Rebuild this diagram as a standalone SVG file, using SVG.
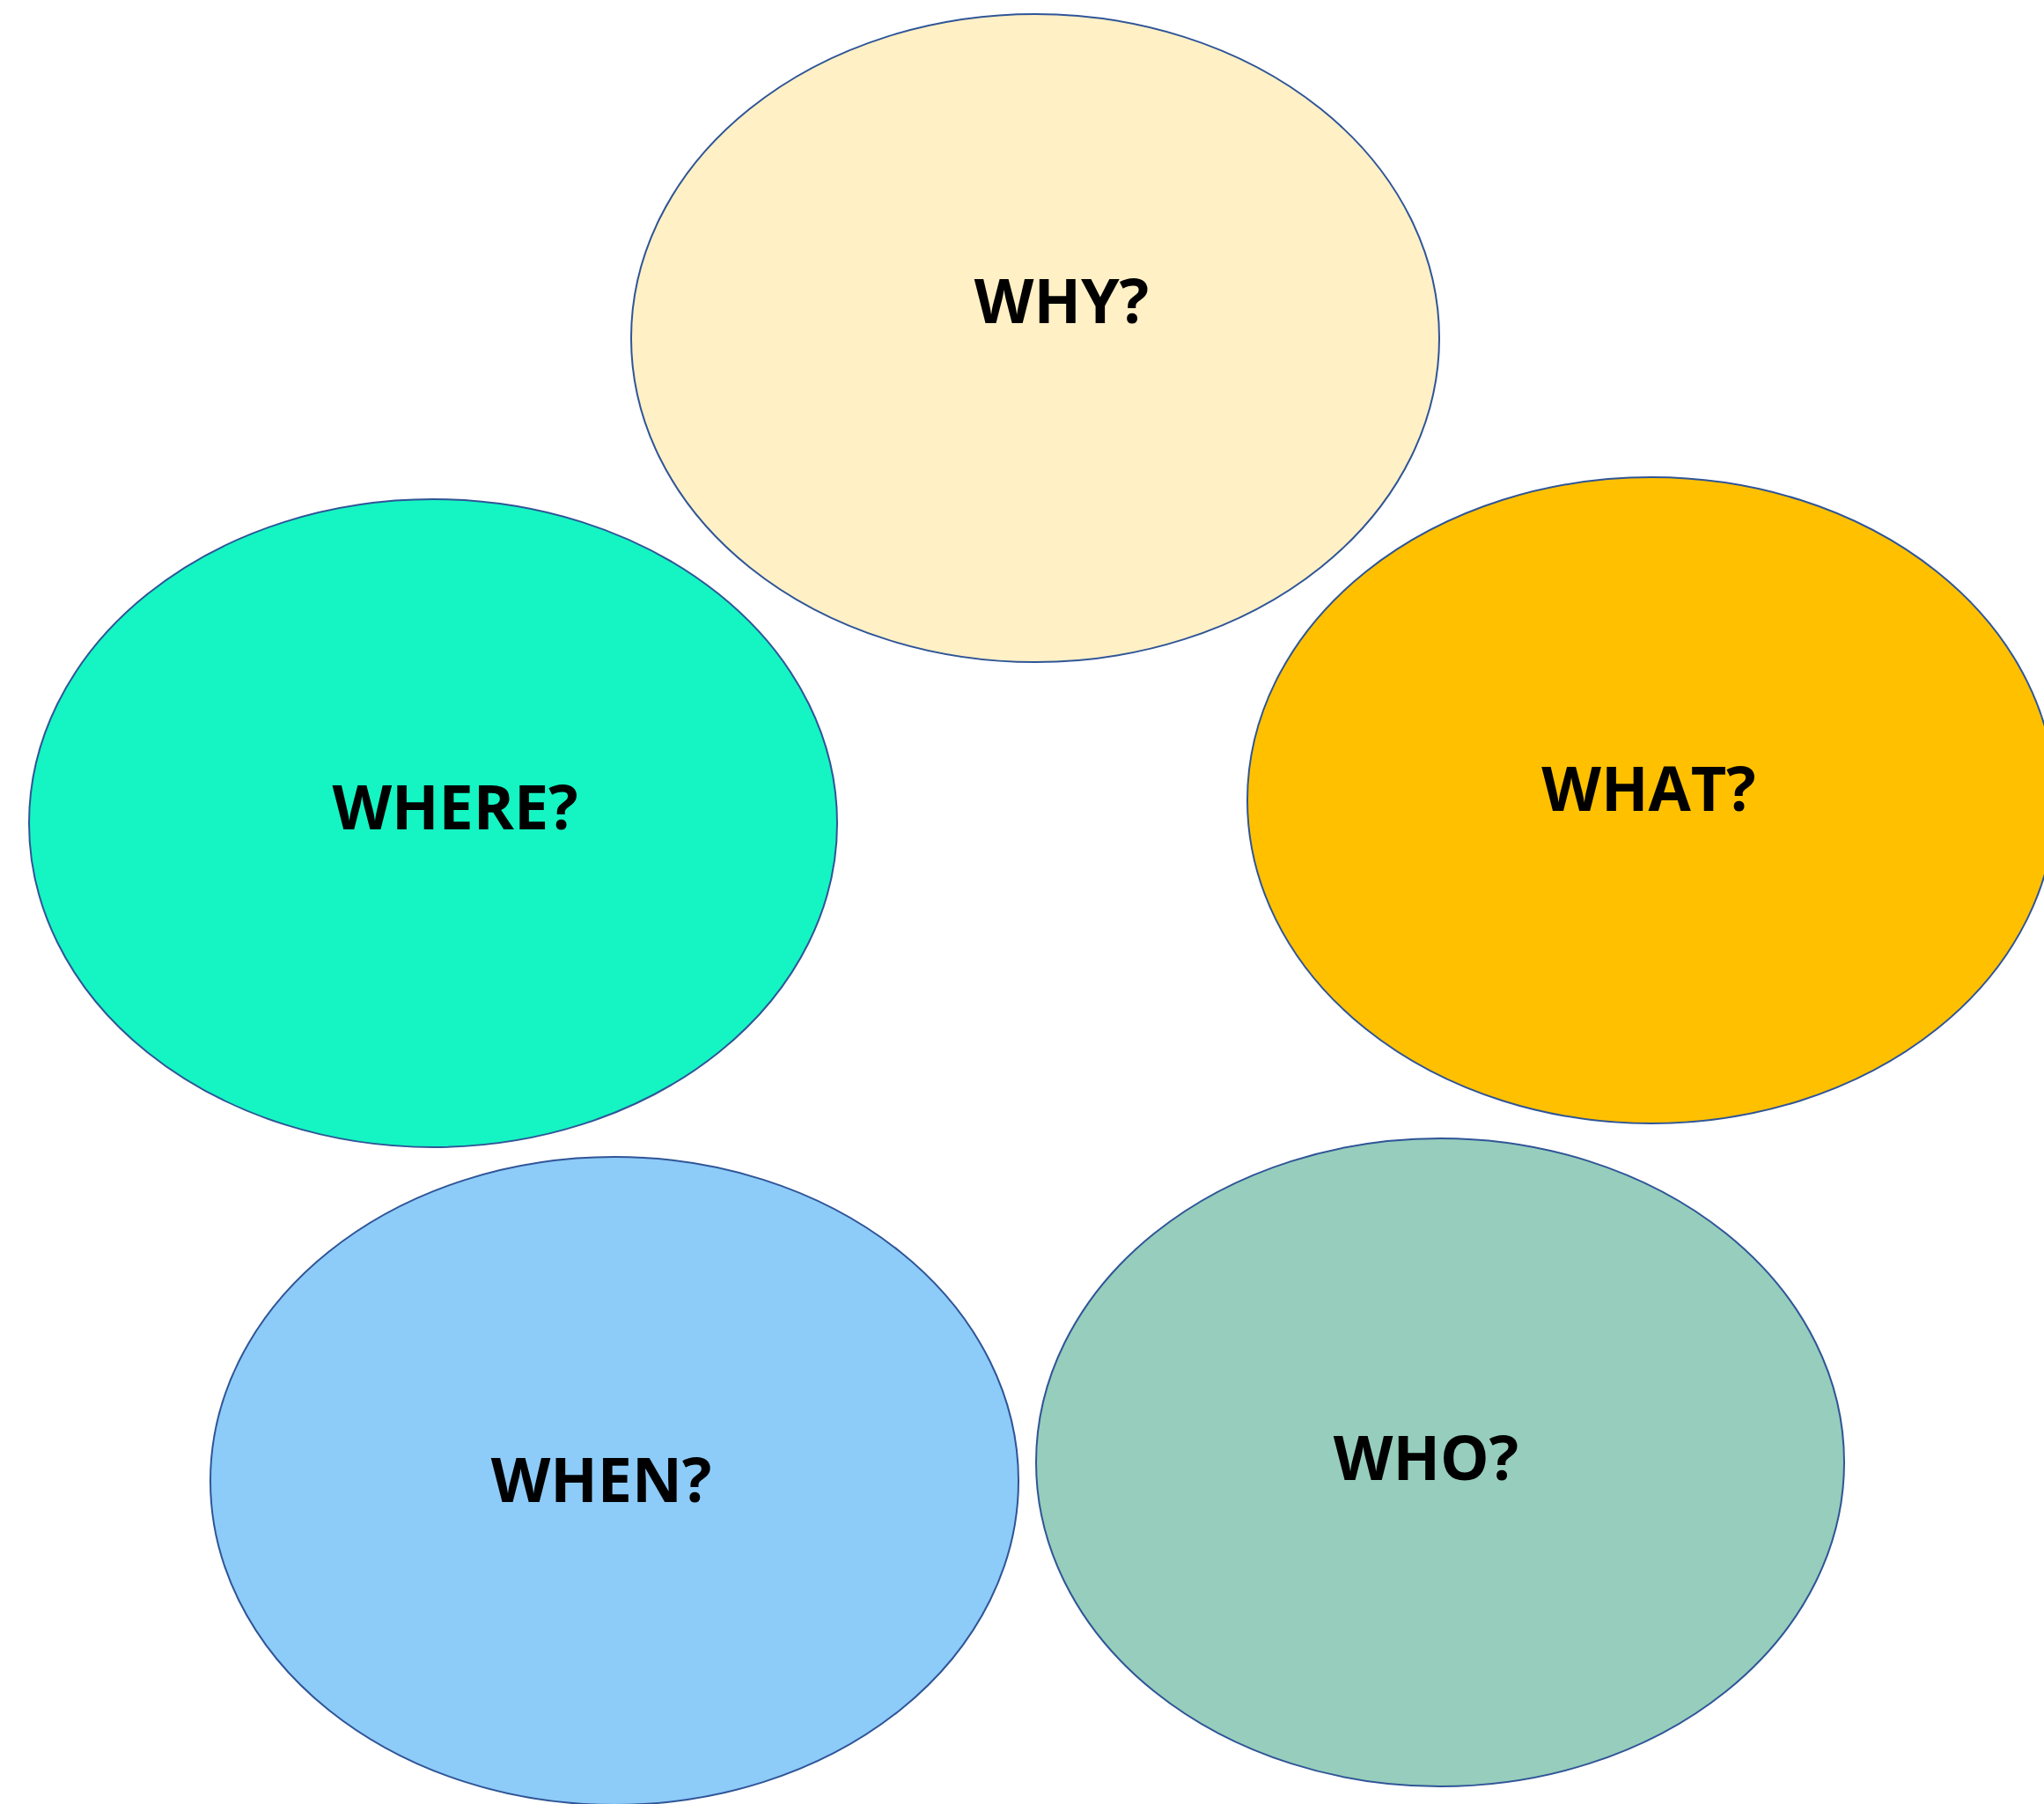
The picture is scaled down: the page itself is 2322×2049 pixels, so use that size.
<svg xmlns="http://www.w3.org/2000/svg" width="2322" height="2049" viewBox="0 0 2322 2049">
<style>
.n{stroke:#2F5597;stroke-width:2}
.t{font-family:"Open Sans","Liberation Sans",sans-serif;font-weight:bold;font-size:70px;fill:#000;text-anchor:middle}
</style>
<rect width="2322" height="2049" fill="#fff"/>
<g id="connectors"></g>
<g id="why"><ellipse class="n" cx="1176" cy="384" rx="459" ry="368" fill="#FFF0C6"/><text class="t" x="1206" y="367">WHY?</text></g>
<g id="where"><ellipse class="n" cx="492" cy="935" rx="459" ry="368" fill="#14F5C3"/><text class="t" x="517" y="942">WHERE?</text></g>
<g id="what"><ellipse class="n" cx="1876" cy="909" rx="459" ry="367" fill="#FFC000"/><text class="t" x="1873" y="921">WHAT?</text></g>
<g id="when"><ellipse class="n" cx="698" cy="1682" rx="459" ry="368" fill="#8DCBF8"/><text class="t" x="683" y="1706">WHEN?</text></g>
<g id="who"><ellipse class="n" cx="1636" cy="1661" rx="459" ry="368" fill="#96CDBC"/><text class="t" x="1620" y="1681">WHO?</text></g>
</svg>
